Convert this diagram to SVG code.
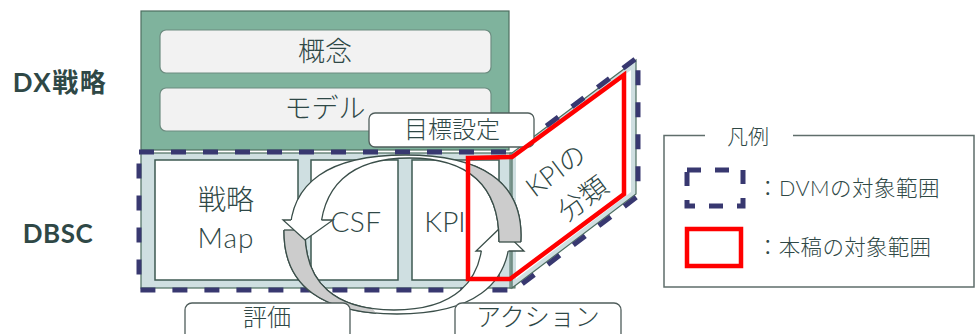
<svg xmlns="http://www.w3.org/2000/svg" width="979" height="334" viewBox="0 0 979 334">
<defs>
<style>
text{font-family:Lato,"Noto Sans CJK JP",sans-serif;fill:#2f4846;font-weight:300}
.c{text-anchor:middle}
.b{font-weight:bold}
.lbl{fill:#fff;stroke:#4f5d5b;stroke-width:1.3}
.bx{fill:#fff;stroke:#3e5a52;stroke-width:1.5}
.inbox{fill:#f2f2f2;stroke:#6d8c80;stroke-width:1.2}
.band{fill-rule:evenodd;stroke:#3b4f4a;stroke-width:1.3;stroke-linejoin:round}
.hd{fill:#fff;stroke:#3b4f4a;stroke-width:1.3;stroke-linejoin:miter}
</style>
<path id="pb" d="M284,232 C284,177.9 322.4,150 397,150 C471.6,150 510,177.9 510,232 C510,286.1 471.6,314 397,314 C322.4,314 284,286.1 284,232Z M305,232 C305,180.5 335.3,154 394,154 C452.7,154 483,180.5 483,232 C483,283.5 452.7,310 394,310 C335.3,310 305,283.5 305,232Z"/>
<path id="pt" d="M290,235 C290,182.2 329.3,155 405.5,155 C481.7,155 521,182.2 521,235 C521,287.8 481.7,315 405.5,315 C329.3,315 290,287.8 290,235Z M320,240 C320,185.9 350.4,158 409.5,158 C468.6,158 499,185.9 499,240 C499,294.1 468.6,322 409.5,322 C350.4,322 320,294.1 320,240Z"/>
<clipPath id="cT"><polygon points="260,0 600,0 600,242 480,242 340,220 260,220"/></clipPath>
<clipPath id="gT"><polygon points="456,140 600,140 600,242 496,242"/></clipPath>
<clipPath id="cB"><polygon points="250,230 330,230 470,251 600,251 600,334 250,334"/></clipPath>
<clipPath id="gB"><polygon points="250,230 307,230 386,325 386,334 250,334"/></clipPath>
</defs>
<rect width="979" height="334" fill="#fff"/>

<g id="labels-left">
<text x="60" y="92" class="c b" font-size="26" letter-spacing="1.5">DX戦略</text>
<text x="58" y="243" class="c b" font-size="26" letter-spacing="0.5">DBSC</text>
</g>

<g id="dx-panel">
<rect x="141" y="11" width="368" height="139" fill="#7fb39d" stroke="#4d6e60" stroke-width="1.2"/>
</g>
<g id="gainen">
<rect x="160" y="30" width="331" height="43" rx="6" class="inbox"/>
<text x="325" y="61" class="c" font-size="27">概念</text>
</g>
<g id="model">
<rect x="160" y="88" width="331" height="43" rx="6" class="inbox"/>
<text x="325" y="118" class="c" font-size="27">モデル</text>
</g>

<g id="dbsc-panel">
<rect x="141" y="153" width="370" height="135" fill="#cfdfe1" stroke="#4d6e60" stroke-width="1.2"/>
</g>
<g id="senryaku-map">
<rect x="155" y="160" width="143" height="120" class="bx"/>
<text x="226" y="210" class="c" font-size="28">戦略</text>
<text x="226" y="248" class="c" font-size="28" letter-spacing="1">Map</text>
</g>
<g id="csf">
<rect x="311" y="160" width="87" height="120" class="bx"/>
<text x="356" y="232" class="c" font-size="28" letter-spacing="0.5">CSF</text>
</g>
<g id="kpi">
<rect x="412" y="160" width="87" height="120" class="bx"/>
<text x="445" y="232" class="c" font-size="28">KPI</text>
</g>

<g id="kpi-bunrui">
<rect x="510" y="153" width="5" height="135" fill="#a9bfbd" stroke="#4d6e60" stroke-width="1"/>
<polygon points="512,153 636,60 636,194 512,288" fill="#cfdfe1" stroke="#4d6e60" stroke-width="1.2"/>
<polygon points="516,156 631,70 631,192 516,279" fill="#fff"/>
<text transform="translate(556,171) rotate(-37)" y="9" class="c" font-size="27">KPIの</text>
<text transform="translate(583,199) rotate(-37)" y="9" class="c" font-size="27">分類</text>
</g>

<g id="dvm-scope">
<polygon points="139,152 512,152 638,57 638,196 514,290 139,290" fill="none" stroke="#383870" stroke-width="5" stroke-dasharray="15 17"/>
</g>

<g id="mokuhyo">
<rect x="369" y="113" width="165" height="34" rx="6" class="lbl"/>
<text x="452" y="138" class="c" font-size="24">目標設定</text>
</g>

<g id="connectors">
<use href="#pb" clip-path="url(#cB)" fill="#fff" class="band"/>
<use href="#pb" clip-path="url(#gB)" fill="#cccccc" class="band"/>
<line x1="284" y1="230" x2="305" y2="230" stroke="#3b4f4a" stroke-width="1.3"/>
<path d="M481.5,251 L476,251 L500,228 L524,251 L508.5,251" class="hd"/>
<use href="#pt" clip-path="url(#cT)" fill="#fff" class="band"/>
<use href="#pt" clip-path="url(#gT)" fill="#cccccc" class="band"/>
<line x1="499" y1="242" x2="521" y2="242" stroke="#3b4f4a" stroke-width="1.3"/>
<path d="M291,220 L283,220 L305,240 L333,220 L321.5,220" class="hd"/>
</g>

<g id="honkou-scope">
<polygon points="468,158 512,157 624,75 624,194 510,279 468,279" fill="none" stroke="#ff0000" stroke-width="4.5"/>
</g>

<g id="hyoka">
<rect x="185" y="303" width="165" height="45" rx="7" class="lbl"/>
<text x="267" y="326" class="c" font-size="24">評価</text>
</g>
<g id="action">
<rect x="455" y="303" width="166" height="45" rx="7" class="lbl"/>
<text x="538" y="326" class="c" font-size="25">アクション</text>
</g>

<g id="legend">
<path d="M705,135.5 H664 V287 H974 V135.5 H793" fill="none" stroke="#5f6e6b" stroke-width="1.5"/>
<text x="748" y="143.5" class="c" font-size="21">凡例</text>
<rect x="687" y="170" width="56" height="36" fill="none" stroke="#383870" stroke-width="5" stroke-dasharray="14 14"/>
<text x="757" y="195.5" font-size="21.5" letter-spacing="0.5">：DVMの対象範囲</text>
<rect x="687" y="229" width="54" height="37" fill="none" stroke="#ff0000" stroke-width="4.5"/>
<text x="757" y="254.5" font-size="21.5" letter-spacing="0.3">：本稿の対象範囲</text>
</g>
</svg>
